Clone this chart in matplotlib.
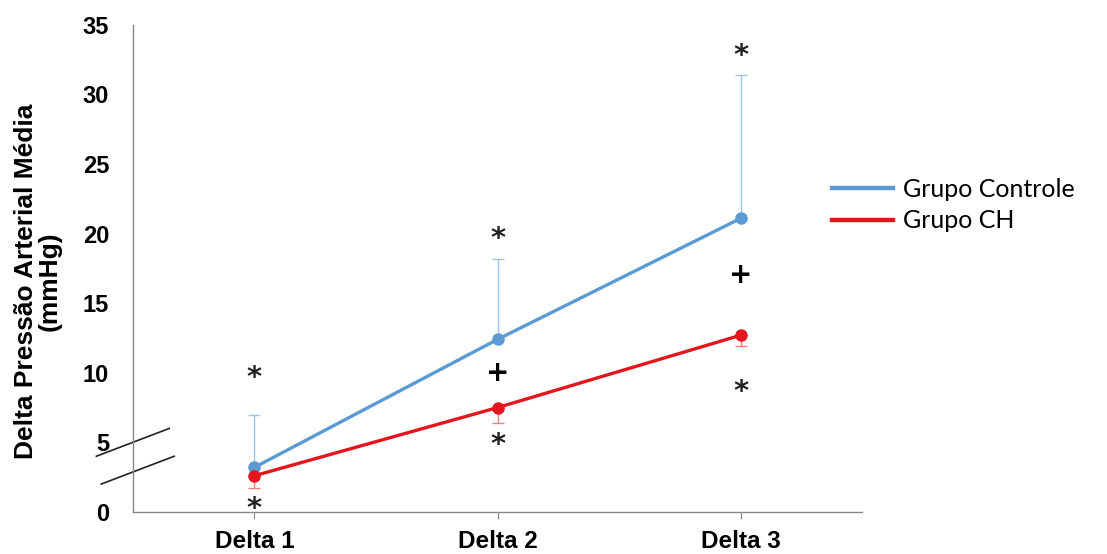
import matplotlib.pyplot as plt
from matplotlib.lines import Line2D

plt.rcParams['font.family'] = ['Liberation Sans', 'DejaVu Sans']

# dados
categorias = ['Delta 1', 'Delta 2', 'Delta 3']
controle = [3.2, 12.4, 21.1]
controle_erro = [3.8, 5.8, 10.3]
ch = [2.6, 7.5, 12.7]
ch_erro = [0.9, 1.1, 0.8]

# marcas de significância: (categoria, y, símbolo)
marcas_x = [0, 0, 1, 1, 1, 2, 2, 2]
marcas_y = [10.0, 0.6, 20.0, 10.0, 5.2, 33.2, 17.0, 9.0]
marcas_txt = ['*', '*', '*', '+', '*', '*', '+', '*']

azul = '#5B9BD5'
vermelho = '#E3161E'

fig = plt.figure(figsize=(11.07, 5.54), dpi=100)
ax = fig.add_axes([0.120, 0.076, 0.659, 0.879])

x = list(range(len(categorias)))

ax.errorbar(x, controle, yerr=[[0] * 3, controle_erro], fmt='none',
            ecolor='#9DC3E6', elinewidth=1, capsize=4, capthick=1, zorder=2)
ax.errorbar(x, ch, yerr=[ch_erro, [0] * 3], fmt='none',
            ecolor='#F08080', elinewidth=1, capsize=4, capthick=1, zorder=2)
ax.plot(x, controle, color=azul, lw=2.4, marker='o', ms=8, zorder=3,
        label='Grupo Controle')
ax.plot(x, ch, color=vermelho, lw=2.4, marker='o', ms=8, zorder=3,
        label='Grupo CH')

for xi, yi, t in zip(marcas_x, marcas_y, marcas_txt):
    if t == '*':
        ax.annotate(t, (xi, yi), xytext=(0, -4), textcoords='offset points',
                    ha='center', va='center', fontsize=21, fontweight='bold',
                    family='DejaVu Sans', color='#222222')
    else:
        ax.annotate(t, (xi, yi), xytext=(0, 0), textcoords='offset points',
                    ha='center', va='center', fontsize=20, fontweight='bold',
                    family='DejaVu Sans', color='black')

ax.set_xlim(-0.5, 2.5)
ax.set_ylim(0, 35)
ax.set_yticks(range(0, 36, 5))
ax.set_xticks(x)
ax.set_xticklabels(categorias, fontsize=17.5, fontweight='bold')
for lbl in ax.get_yticklabels():
    lbl.set_fontsize(17)
    lbl.set_fontweight('bold')
ax.tick_params(axis='y', length=0, pad=17)
ax.tick_params(axis='x', length=5, color='#888888', direction='out', pad=8)

for s in ['top', 'right']:
    ax.spines[s].set_visible(False)
for s in ['left', 'bottom']:
    ax.spines[s].set_color('#888888')
    ax.spines[s].set_linewidth(1)

ax.set_ylabel('Delta Pressão Arterial Média\n(mmHg)', fontsize=19,
              fontweight='bold', linespacing=0.95)
ax.yaxis.set_label_coords(-0.098, 0.474)

# quebra do eixo
for y0, dx in [(5.0, 0.0), (3.0, 0.02)]:
    ax.plot([-0.65 + dx, -0.35 + dx], [y0 - 1.0, y0 + 1.0], color='#222222',
            lw=1.2, transform=ax.transData, clip_on=False)

handles = [Line2D([], [], color=azul, lw=3.2), Line2D([], [], color=vermelho, lw=3.2)]
fig.legend(handles, ['Grupo Controle', 'Grupo CH'], loc='upper left',
           bbox_to_anchor=(0.731, 0.72), frameon=False, handlelength=2.45,
           handletextpad=0.4, labelspacing=0.35,
           prop={'family': 'Lato', 'size': 18})

fig.savefig('out.png', dpi=100)
